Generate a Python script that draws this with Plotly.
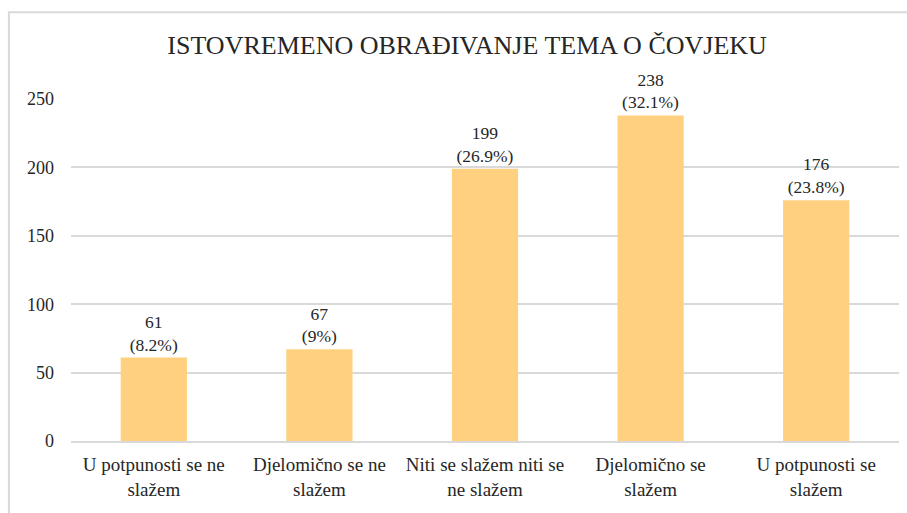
import plotly.graph_objects as go

categories = [
    "U potpunosti se ne<br>slažem",
    "Djelomično se ne<br>slažem",
    "Niti se slažem niti se<br>ne slažem",
    "Djelomično se<br>slažem",
    "U potpunosti se<br>slažem",
]
counts = [61, 67, 199, 238, 176]
percents = ["8.2%", "9%", "26.9%", "32.1%", "23.8%"]
y_ticks = [0, 50, 100, 150, 200, 250]

labels = [f"{c}<br>({p})" for c, p in zip(counts, percents)]

SERIF = "Times New Roman, Liberation Serif, DejaVu Serif, serif"

fig = go.Figure()
fig.add_trace(go.Bar(
    x=categories,
    y=counts,
    marker=dict(color="#FFD07F", line=dict(width=0)),
    text=labels,
    textposition="outside",
    constraintext="none",
    outsidetextfont=dict(family=SERIF, size=17.5, color="#262626"),
    cliponaxis=False,
    showlegend=False,
))

fig.update_layout(
    width=907,
    height=513,
    paper_bgcolor="white",
    plot_bgcolor="white",
    font=dict(family=SERIF, size=16, color="#262626"),
    title=dict(
        text="ISTOVREMENO OBRAĐIVANJE TEMA O ČOVJEKU",
        x=0.515, xanchor="center",
        y=0.912, yanchor="middle",
        font=dict(family=SERIF, size=26, color="#262626"),
    ),
    margin=dict(l=71, r=8, t=99, b=72),
    bargap=0.6,
    xaxis=dict(
        showgrid=False,
        showline=True,
        linecolor="#D9D9D9",
        linewidth=2,
        ticks="",
        ticklabelstandoff=5,
        tickfont=dict(family=SERIF, size=19),
    ),
    yaxis=dict(
        range=[0, 250],
        tickvals=y_ticks,
        showgrid=True,
        gridcolor="#D9D9D9",
        gridwidth=1.5,
        zeroline=False,
        showline=False,
        ticks="",
        ticklabelstandoff=16,
        tickfont=dict(family=SERIF, size=18),
    ),
    shapes=[
        dict(
            type="rect", xref="paper", yref="paper",
            x0=-0.075, x1=1.2, y0=-0.5, y1=1.254,
            line=dict(color="#D9D9D9", width=2),
            fillcolor="rgba(0,0,0,0)",
            layer="below",
        )
    ],
)

fig.write_html(
    "out.html",
    config={"displayModeBar": False},
    post_script="document.body.style.margin='0';",
)
